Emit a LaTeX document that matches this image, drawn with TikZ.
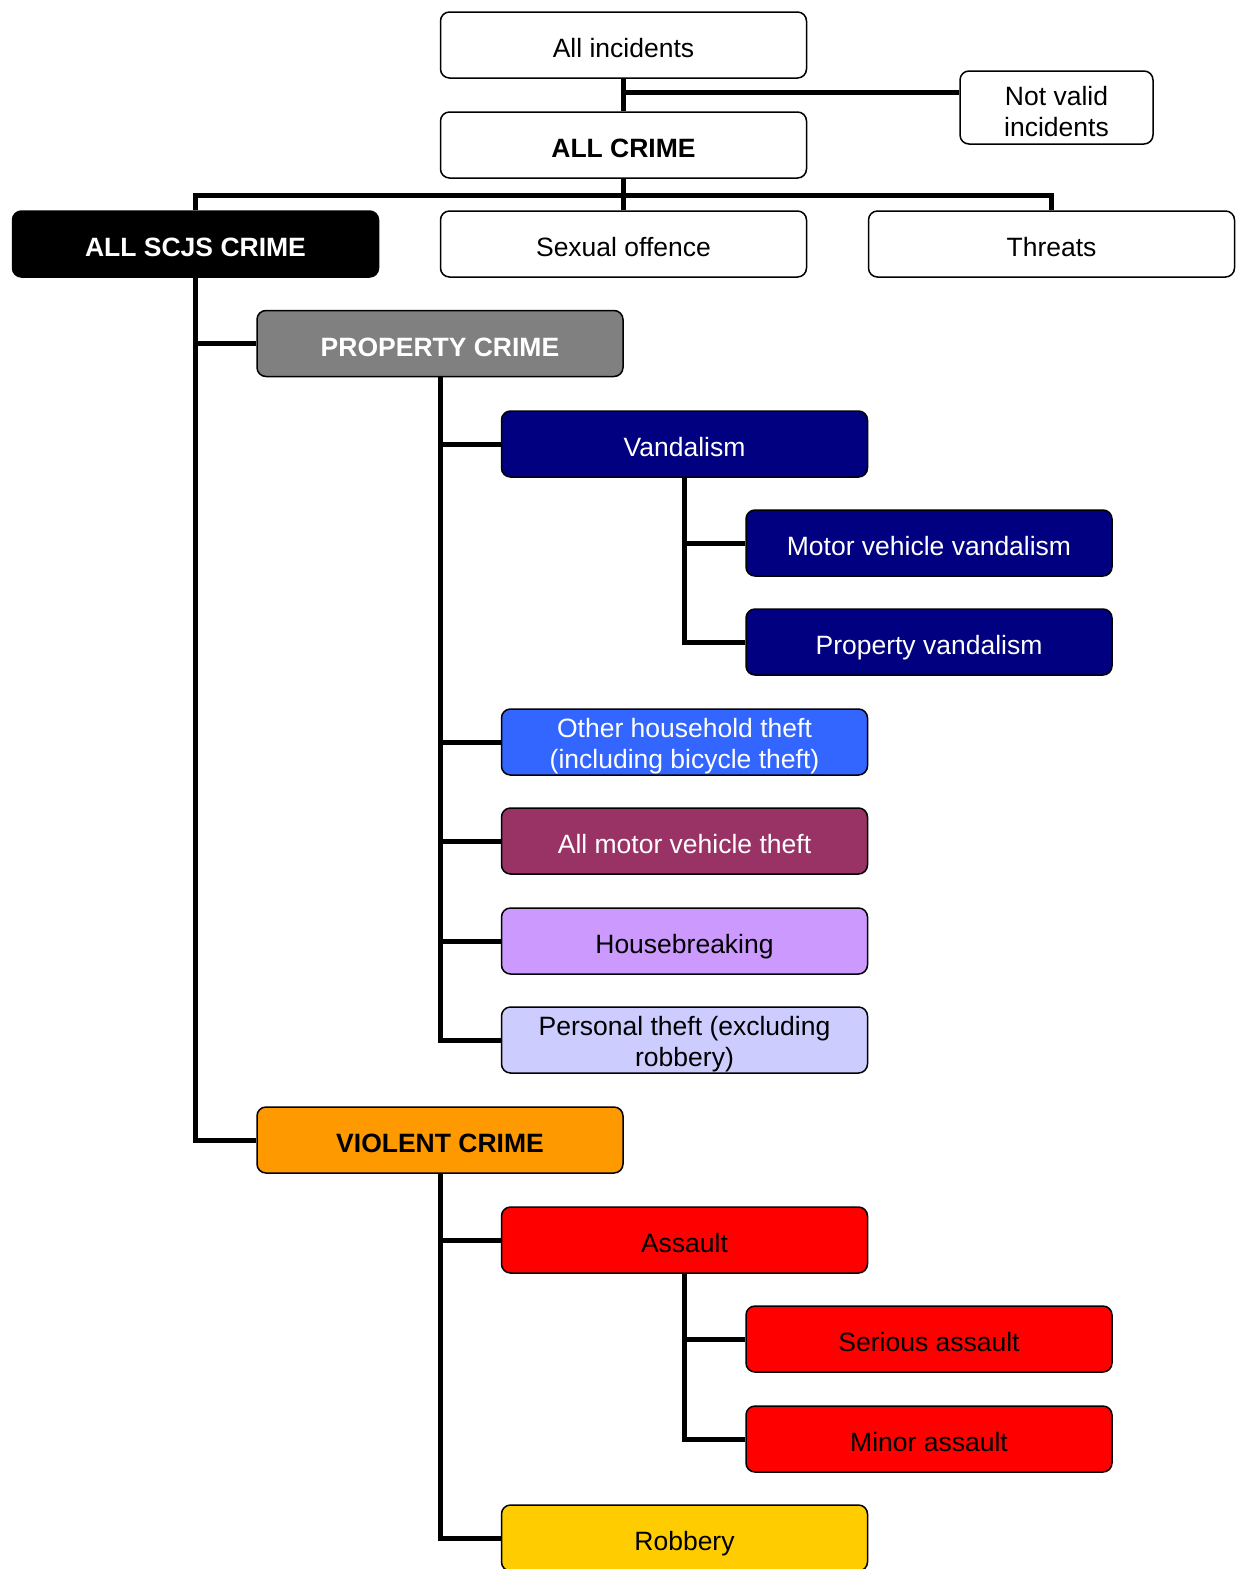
\documentclass[tikz,border=0pt]{standalone}
\usepackage{fontspec}
\setmainfont{Liberation Sans}
\definecolor{propgray}{RGB}{128,128,128}
\definecolor{vandnavy}{RGB}{0,0,128}
\definecolor{hhblue}{RGB}{51,102,255}
\definecolor{mvplum}{RGB}{153,51,102}
\definecolor{hbviolet}{RGB}{204,153,255}
\definecolor{ptlilac}{RGB}{204,204,255}
\definecolor{violorange}{RGB}{255,153,0}
\definecolor{assred}{RGB}{255,0,0}
\definecolor{robyellow}{RGB}{255,204,0}
\tikzset{
	twoline/.style = {draw, fill=white, rounded corners=9pt, line width=1.5pt,
		minimum width=366pt, minimum height=66pt, inner sep=0pt, align=center,
		text height=59pt, font=\fontsize{26.5}{31}\selectfont},
	crimebox/.style = {twoline, text height=25pt, text depth=0pt},
	headbox/.style = {crimebox, font=\fontsize{26.5}{31}\selectfont\bfseries},
	sidebox/.style = {twoline, minimum width=193pt, minimum height=73pt},
	link/.style = {line width=5pt}
}
\begin{document}
\begin{tikzpicture}[x = 1pt, y = -1pt]
		\useasboundingbox (0, 0) rectangle (1243, 1569);
		% top of the tree
		\node[crimebox] (inc) at (623.5, 45) {All incidents};
		\node[sidebox] (nv) at (1056.5, 107.5) {Not valid\\incidents};
		\node[headbox] (all) at (623.5, 145) {ALL CRIME};
		\node[headbox, fill=black, text=white] (scjs) at (195.5, 244) {ALL SCJS CRIME};
		\node[crimebox] (sex) at (623.5, 244) {Sexual offence};
		\node[crimebox] (thr) at (1051.5, 244) {Threats};
		% property crime
		\node[headbox, fill=propgray, text=white] (prop) at (440, 343.5) {PROPERTY CRIME};
		\node[crimebox, fill=vandnavy, text=white] (vand) at (684.5, 444) {Vandalism};
		\node[crimebox, fill=vandnavy, text=white] (mvv) at (929, 543) {Motor vehicle vandalism};
		\node[crimebox, fill=vandnavy, text=white] (pv) at (929, 642) {Property vandalism};
		\node[twoline, fill=hhblue, text=white] (oht) at (684.5, 742) {Other household theft\\(including bicycle theft)};
		\node[crimebox, fill=mvplum, text=white] (amv) at (684.5, 841) {All motor vehicle theft};
		\node[crimebox, fill=hbviolet] (hb) at (684.5, 941) {Housebreaking};
		\node[twoline, fill=ptlilac] (pt) at (684.5, 1040) {Personal theft (excluding\\robbery)};
		% violent crime
		\node[headbox, fill=violorange] (viol) at (440, 1140) {VIOLENT CRIME};
		\node[crimebox, fill=assred] (ass) at (684.5, 1240) {Assault};
		\node[crimebox, fill=assred] (sa) at (929, 1339) {Serious assault};
		\node[crimebox, fill=assred] (ma) at (929, 1439) {Minor assault};
		\node[crimebox, fill=robyellow] (rob) at (684.5, 1538) {Robbery};
		% junctions
		\coordinate (jnv) at (623.5, 92);
		\coordinate (jall) at (623.5, 195);
		% links
		\draw[link] (inc) -- (all);
		\draw[link] (jnv) -- (jnv -| nv.west);
		\draw[link] (all) -- (sex);
		\draw[link] (scjs.north) -- (scjs.north |- jall) -- (thr.north |- jall) -- (thr.north);
		\draw[link] (scjs.south) |- (viol.west);
		\draw[link] (scjs.south |- prop.west) -- (prop.west);
		\draw[link] (prop.south) |- (pt.west);
		\foreach \n in {vand, oht, amv, hb}
			\draw[link] (prop.south |- \n.west) -- (\n.west);
		\draw[link] (vand.south) |- (pv.west);
		\draw[link] (vand.south |- mvv.west) -- (mvv.west);
		\draw[link] (viol.south) |- (rob.west);
		\draw[link] (viol.south |- ass.west) -- (ass.west);
		\draw[link] (ass.south) |- (ma.west);
		\draw[link] (ass.south |- sa.west) -- (sa.west);
	\end{tikzpicture}
\end{document}
